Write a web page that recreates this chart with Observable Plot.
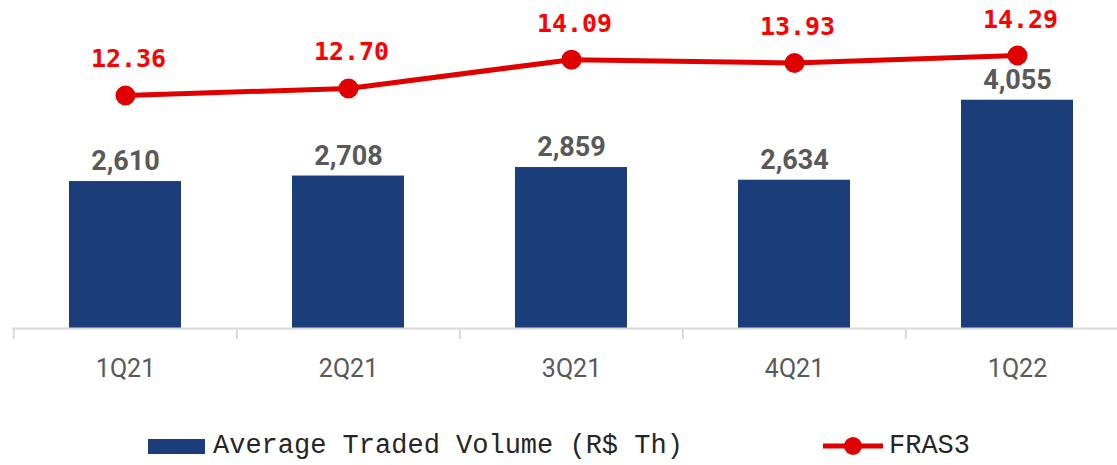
<!DOCTYPE html>
<html>
<head>
<meta charset="utf-8">
<script src="https://cdn.jsdelivr.net/npm/d3@7"></script>
<script src="https://cdn.jsdelivr.net/npm/@observablehq/plot@0.6"></script>
<style>
  html, body { margin: 0; padding: 0; background: #ffffff; }
  #wrap { position: relative; width: 1117px; height: 465px; overflow: hidden; background: #fff; }
  #chart { position: absolute; left: 0; top: 0; width: 1129px; }
  .leg { position: absolute; top: 428px; height: 36px; display: flex; align-items: center;
         font-family: "Liberation Mono", "DejaVu Sans Mono", monospace; font-size: 27px; color: #262626; }
  .sw { display: inline-block; width: 57px; height: 15px; background: #1b3d7a; margin-right: 8px; }
</style>
</head>
<body>
<div id="wrap">
  <div id="chart"></div>
  <div class="leg" style="left:148px"><span class="sw"></span><span>Average Traded Volume (R$ Th)</span></div>
  <div class="leg" style="left:823px">
    <svg width="62" height="24" style="margin-right:4px"><line x1="0" y1="12" x2="60" y2="12" stroke="#e00000" stroke-width="5"/><circle cx="30" cy="12" r="9" fill="#e00000"/></svg>
    <span>FRAS3</span>
  </div>
</div>
<script>
const categories = ["1Q21", "2Q21", "3Q21", "4Q21", "1Q22"];
const volumes = [2610, 2708, 2859, 2634, 4055];
const prices = [12.36, 12.70, 14.09, 13.93, 14.29];
const volumeLabels = ["2,610", "2,708", "2,859", "2,634", "4,055"];
const priceLabels = ["12.36", "12.70", "14.09", "13.93", "14.29"];

const rows = categories.map((c, i) => ({
  cat: c, vol: volumes[i], price: prices[i], volLabel: volumeLabels[i], priceLabel: priceLabels[i]
}));

const W = 1129, H = 420, ML = 12, MR = 0, MT = 0, MB = 92;
const yDomain = [0, 5826];
// secondary axis for the share price, mapped onto the primary scale
const sec = d3.scaleLinear().domain([1.1, 16.95]).range(yDomain);
const step = (W - ML - MR) / categories.length;

const chart = Plot.plot({
  width: W, height: H,
  marginLeft: ML, marginRight: MR, marginTop: MT, marginBottom: MB,
  style: { background: "transparent", overflow: "visible", maxWidth: "none" },
  x: { type: "band", domain: categories, paddingInner: 0.5, paddingOuter: 0.25, axis: null },
  y: { domain: yDomain, axis: null },
  marks: [
    Plot.barY(rows, { x: "cat", y: "vol", fill: "#1b3d7a" }),
    Plot.ruleY([0], { stroke: "#d9d9d9", strokeWidth: 2 }),
    Plot.ruleX(rows, { x: "cat", y1: 0, y2: -195, dx: -step / 2, stroke: "#d9d9d9", strokeWidth: 2 }),
    Plot.axisX({ tickSize: 0, tickPadding: 31, fontSize: 25, fill: "#595959",
      fontFamily: "Roboto", label: null }),
    Plot.text(rows, { x: "cat", y: "vol", text: "volLabel", dy: -20, fill: "#595959",
      fontSize: 27, fontWeight: "bold", fontFamily: "Roboto" }),
    Plot.lineY(rows, { x: "cat", y: d => sec(d.price), stroke: "#e00000", strokeWidth: 5 }),
    Plot.dot(rows, { x: "cat", y: d => sec(d.price), r: 10, fill: "#e00000" }),
    Plot.text(rows, { x: "cat", y: d => sec(d.price), text: "priceLabel", dy: -36, dx: 3, fill: "#ff0000",
      fontSize: 25, fontWeight: "bold", fontFamily: "DejaVu Sans Mono" })
  ]
});
chart.style.maxWidth = "none";
document.getElementById("chart").appendChild(chart);
</script>
</body>
</html>
